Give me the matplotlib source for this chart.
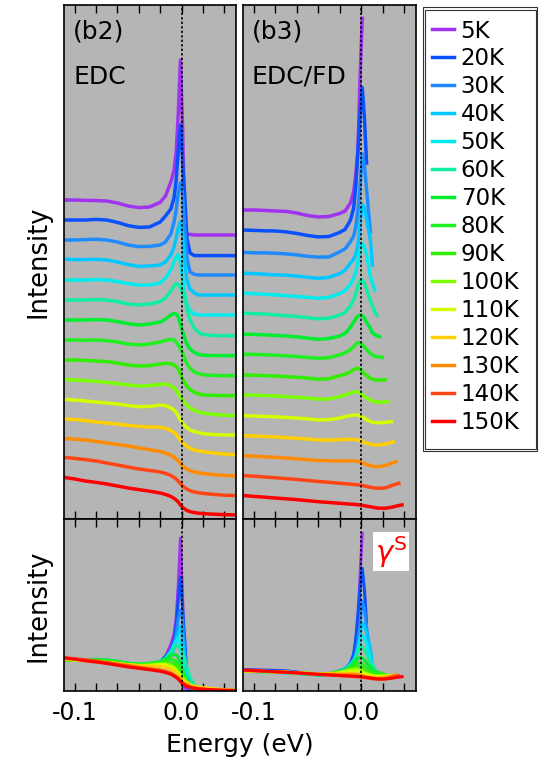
import numpy as np
import matplotlib
matplotlib.use('Agg')
import matplotlib.pyplot as plt
from matplotlib.patches import Rectangle

plt.rcParams['axes.unicode_minus'] = False

temperatures = ['5K', '20K', '30K', '40K', '50K', '60K', '70K', '80K',
                '90K', '100K', '110K', '120K', '130K', '140K', '150K']
colors = ['#a033f0', '#0a50ff', '#1e8cff', '#00c8ff', '#00ebeb', '#10eea0',
          '#00ee30', '#20f020', '#30ee00', '#7cff00', '#d2ff00', '#ffd000',
          '#ff8c00', '#ff4514', '#ff0000']

# EDC intensity (arb. units, 0 = level at -0.11 eV)
energy_edc = [-0.11, -0.10, -0.09, -0.08, -0.07, -0.06, -0.05, -0.04, -0.03, -0.02,
              -0.015, -0.01, -0.007, -0.005, -0.003, -0.001, 0.001, 0.003, 0.005,
              0.008, 0.012, 0.016, 0.02, 0.03, 0.04, 0.052]
edc_5K = [0.0, 0.0, -0.02, -0.03, -0.05, -0.15, -0.3, -0.38, -0.35, -0.12, 0.2, 0.9, 1.5,
          2.4, 4.35, 7.0, 3.6, -1.6, -1.7, -1.72, -1.75, -1.75, -1.75, -1.75, -1.75, -1.75]
edc_20K = [0.0, 0.0, 0.0, 0.03, 0.0, -0.12, -0.28, -0.37, -0.35, -0.1, 0.2, 0.55, 1.1,
           2.0, 3.5, 4.75, 3.0, 1.2, -0.9, -1.65, -1.78, -1.78, -1.78, -1.78, -1.78, -1.78]
edc_30K = [0.0, 0.0, 0.02, 0.04, 0.0, -0.1, -0.25, -0.33, -0.32, -0.25, -0.1, 0.3, 0.9,
           1.5, 2.4, 2.87, 2.3, 0.6, -0.9, -1.6, -1.72, -1.75, -1.75, -1.75, -1.75, -1.75]
edc_40K = [0.05, 0.02, 0.02, 0.03, 0.0, -0.1, -0.23, -0.32, -0.3, -0.25, -0.1, 0.25, 0.65,
           1.1, 1.6, 1.92, 1.25, -0.1, -1.0, -1.45, -1.65, -1.75, -1.75, -1.75, -1.75, -1.75]
edc_50K = [0.0, 0.0, 0.0, 0.02, 0.0, -0.08, -0.18, -0.25, -0.25, -0.15, 0.1, 0.5, 0.9,
           1.15, 1.28, 0.9, 0.1, -0.75, -1.2, -1.55, -1.7, -1.75, -1.75, -1.75, -1.75, -1.75]
edc_60K = [0.0, 0.0, 0.0, 0.02, 0.0, -0.08, -0.2, -0.25, -0.2, -0.08, 0.1, 0.45, 0.7,
           0.83, 0.8, 0.6, 0.4, 0.1, -0.4, -1.0, -1.42, -1.62, -1.72, -1.78, -1.78, -1.78]
edc_70K = [0.0, 0.0, 0.0, 0.02, 0.0, -0.08, -0.18, -0.25, -0.2, -0.1, 0.05, 0.25, 0.33,
           0.3, 0.15, -0.2, -0.55, -0.9, -1.2, -1.45, -1.62, -1.72, -1.76, -1.78, -1.78, -1.78]
edc_80K = [0.0, 0.0, -0.01, 0.0, -0.03, -0.1, -0.2, -0.25, -0.2, -0.1, -0.02, 0.03, 0.0,
           -0.1, -0.25, -0.42, -0.65, -0.95, -1.17, -1.42, -1.6, -1.68, -1.74, -1.77, -1.78, -1.78]
edc_90K = [0.0, 0.0, -0.02, -0.05, -0.08, -0.15, -0.25, -0.3, -0.28, -0.2, -0.17, -0.18, -0.25,
           -0.33, -0.45, -0.7, -0.95, -1.15, -1.3, -1.48, -1.62, -1.7, -1.74, -1.77, -1.78, -1.78]
edc_100K = [0.03, 0.0, -0.03, -0.07, -0.12, -0.18, -0.25, -0.3, -0.28, -0.22, -0.2, -0.28, -0.4,
            -0.52, -0.68, -0.85, -1.0, -1.12, -1.25, -1.4, -1.52, -1.6, -1.65, -1.72, -1.76, -1.78]
edc_110K = [0.03, 0.0, -0.05, -0.1, -0.15, -0.2, -0.28, -0.33, -0.32, -0.25, -0.28, -0.4, -0.5,
            -0.62, -0.8, -1.0, -1.15, -1.28, -1.38, -1.5, -1.58, -1.63, -1.68, -1.73, -1.75, -1.75]
edc_120K = [0.05, 0.02, -0.03, -0.1, -0.15, -0.2, -0.27, -0.32, -0.35, -0.36, -0.42, -0.52, -0.62,
            -0.72, -0.85, -1.0, -1.13, -1.23, -1.32, -1.42, -1.5, -1.55, -1.58, -1.65, -1.7, -1.74]
edc_130K = [0.08, 0.04, 0.0, -0.07, -0.15, -0.22, -0.3, -0.4, -0.48, -0.58, -0.65, -0.76, -0.86,
            -0.95, -1.05, -1.18, -1.3, -1.38, -1.45, -1.53, -1.6, -1.64, -1.67, -1.73, -1.77, -1.8]
edc_140K = [0.13, 0.08, 0.02, -0.05, -0.15, -0.25, -0.35, -0.45, -0.52, -0.6, -0.67, -0.77, -0.87,
            -0.95, -1.06, -1.18, -1.3, -1.38, -1.45, -1.53, -1.6, -1.64, -1.67, -1.72, -1.76, -1.78]
edc_150K = [0.13, 0.05, -0.05, -0.12, -0.2, -0.3, -0.4, -0.48, -0.56, -0.65, -0.72, -0.82, -0.92,
            -1.0, -1.1, -1.25, -1.37, -1.45, -1.52, -1.58, -1.63, -1.66, -1.68, -1.71, -1.73, -1.75]

# EDC divided by Fermi-Dirac; each curve stops where the division blows up
energy_fd = [-0.11, -0.10, -0.09, -0.08, -0.07, -0.06, -0.05, -0.04, -0.03, -0.02,
             -0.015, -0.01, -0.007, -0.005, -0.003, -0.001, 0.001, 0.003, 0.005,
             0.0085, 0.0105, 0.0125, 0.0145, 0.017, 0.0195, 0.0225, 0.025, 0.028,
             0.030, 0.0325, 0.035, 0.038]
fd_5K = [0.0, 0.0, -0.02, -0.05, -0.07, -0.15, -0.27, -0.34, -0.32, -0.17, -0.05, 0.34,
         0.9, 1.75, 3.0, 6.6, 9.4]
fd_20K = [0.02, 0.0, -0.02, -0.03, -0.07, -0.15, -0.25, -0.32, -0.3, -0.1, 0.05, 0.5,
          1.1, 2.2, 3.9, 5.8, 7.0, 5.5, 3.3]
fd_30K = [-0.08, -0.1, -0.1, -0.12, -0.15, -0.2, -0.27, -0.31, -0.3, -0.05, 0.1, 0.45,
          0.72, 1.2, 2.0, 3.2, 4.75, 4.2, 3.0, 0.94]
fd_40K = [-0.1, -0.12, -0.15, -0.18, -0.2, -0.24, -0.3, -0.35, -0.3, -0.12, 0.05, 0.4,
          0.6, 0.85, 1.3, 2.4, 3.25, 3.1, 2.55, 1.55, 0.3]
fd_50K = [-0.08, -0.1, -0.13, -0.16, -0.2, -0.24, -0.28, -0.33, -0.28, -0.1, 0.05, 0.35,
          0.65, 0.95, 1.5, 2.1, 2.37, 2.2, 1.8, 0.75, 0.4, 0.08]
fd_60K = [-0.06, -0.08, -0.1, -0.14, -0.18, -0.22, -0.28, -0.34, -0.3, -0.15, -0.02, 0.3,
          0.6, 0.9, 1.3, 1.55, 1.57, 1.4, 1.1, 0.55, 0.28, 0.05, -0.15]
fd_70K = [-0.09, -0.1, -0.12, -0.15, -0.18, -0.22, -0.28, -0.34, -0.3, -0.18, -0.05, 0.25,
          0.5, 0.68, 0.8, 0.85, 0.82, 0.7, 0.5, 0.2, -0.03, -0.1, -0.16, -0.21]
fd_80K = [-0.07, -0.08, -0.1, -0.12, -0.15, -0.18, -0.23, -0.27, -0.24, -0.1, 0.0, 0.15,
          0.3, 0.42, 0.5, 0.48, 0.4, 0.28, 0.15, -0.02, -0.11, -0.16, -0.19, -0.21, -0.22]
fd_90K = [-0.09, -0.1, -0.12, -0.14, -0.17, -0.2, -0.24, -0.3, -0.27, -0.12, -0.05, 0.07,
          0.17, 0.22, 0.24, 0.2, 0.1, -0.02, -0.12, -0.25, -0.3, -0.33, -0.34, -0.34, -0.33,
          -0.32]
fd_100K = [-0.07, -0.08, -0.1, -0.12, -0.15, -0.18, -0.22, -0.27, -0.27, -0.15, -0.07, 0.03,
           0.07, 0.09, 0.08, 0.03, -0.05, -0.15, -0.22, -0.32, -0.37, -0.4, -0.41, -0.42,
           -0.42, -0.41, -0.4]
fd_110K = [-0.08, -0.1, -0.12, -0.14, -0.17, -0.2, -0.24, -0.29, -0.28, -0.2, -0.13, -0.08,
           -0.05, -0.05, -0.06, -0.1, -0.15, -0.22, -0.28, -0.36, -0.4, -0.42, -0.43, -0.43,
           -0.42, -0.41, -0.4, -0.38]
fd_120K = [-0.06, -0.08, -0.1, -0.13, -0.16, -0.19, -0.23, -0.27, -0.28, -0.26, -0.25, -0.24,
           -0.25, -0.26, -0.28, -0.31, -0.35, -0.4, -0.44, -0.48, -0.5, -0.52, -0.52, -0.52,
           -0.5, -0.47, -0.45, -0.4, -0.36]
fd_130K = [-0.04, -0.07, -0.1, -0.13, -0.16, -0.2, -0.24, -0.28, -0.3, -0.3, -0.3, -0.3,
           -0.3, -0.31, -0.33, -0.36, -0.4, -0.44, -0.48, -0.53, -0.56, -0.58, -0.58, -0.58,
           -0.56, -0.52, -0.48, -0.42, -0.38, -0.34]
fd_140K = [-0.02, -0.05, -0.09, -0.13, -0.17, -0.21, -0.26, -0.31, -0.35, -0.4, -0.42, -0.44,
           -0.46, -0.47, -0.48, -0.49, -0.51, -0.53, -0.55, -0.59, -0.61, -0.63, -0.64, -0.64,
           -0.64, -0.62, -0.58, -0.52, -0.48, -0.44, -0.4]
fd_150K = [0.0, -0.04, -0.08, -0.12, -0.16, -0.2, -0.25, -0.3, -0.34, -0.38, -0.4, -0.42,
           -0.43, -0.44, -0.45, -0.46, -0.48, -0.5, -0.52, -0.55, -0.57, -0.59, -0.61, -0.62,
           -0.62, -0.62, -0.6, -0.58, -0.55, -0.52, -0.49, -0.46]

edc_curves = [edc_5K, edc_20K, edc_30K, edc_40K, edc_50K, edc_60K, edc_70K, edc_80K,
              edc_90K, edc_100K, edc_110K, edc_120K, edc_130K, edc_140K, edc_150K]
fd_curves = [fd_5K, fd_20K, fd_30K, fd_40K, fd_50K, fd_60K, fd_70K, fd_80K,
             fd_90K, fd_100K, fd_110K, fd_120K, fd_130K, fd_140K, fd_150K]

W, H = 544, 763
fig = plt.figure(figsize=(W / 100, H / 100), dpi=100)


def px_axes(x0, y0, x1, y1):
    # axes from pixel box (top-left origin)
    return fig.add_axes([x0 / W, 1 - y1 / H, (x1 - x0) / W, (y1 - y0) / H])


ax_tl = px_axes(64, 5, 236, 519)
ax_bl = px_axes(64, 519, 236, 691)
ax_tr = px_axes(243, 5, 416, 519)
ax_br = px_axes(243, 519, 416, 691)

n = len(temperatures)
for k in range(n):
    off = n - 1 - k
    ax_tl.plot(energy_edc, np.array(edc_curves[k]) + off, color=colors[k], lw=2.5,
               label=temperatures[k])
    ax_bl.plot(energy_edc, edc_curves[k], color=colors[k], lw=2.2)
    e = energy_fd[:len(fd_curves[k])]
    ax_tr.plot(e, np.array(fd_curves[k]) + off, color=colors[k], lw=2.5)
    ax_br.plot(e, fd_curves[k], color=colors[k], lw=2.2)

ax_tl.set_ylim(-1.95, 23.75)
ax_bl.set_ylim(-1.78, 8.1)
ax_tr.set_ylim(-1.15, 24.05)
ax_br.set_ylim(-1.45, 10.4)

for ax in [ax_tl, ax_bl, ax_tr, ax_br]:
    ax.set_facecolor('#b5b5b5')
    ax.set_xlim(-0.110, 0.051)
    ax.axvline(0, color='k', lw=1.2, ls=(0, (1.4, 1.3)), zorder=5)
    ax.set_yticks([])
    ax.set_xticks([-0.1, 0.0])
    ax.set_xticks([-0.08, -0.06, -0.04, -0.02, 0.02, 0.04], minor=True)
    ax.tick_params(axis='x', which='both', direction='in', top=True, bottom=True,
                   length=5.5, width=1, pad=7, labelsize=17)
    for s in ax.spines.values():
        s.set_linewidth(1.2)

for ax in [ax_tl, ax_tr]:
    ax.tick_params(labelbottom=False)
for ax in [ax_bl, ax_br]:
    ax.set_xticklabels(['-0.1', '0.0'])

# panel labels
fig.text(73 / W, 1 - 38.5 / H, '(b2)', fontsize=18, va='baseline')
fig.text(73 / W, 1 - 83.5 / H, 'EDC', fontsize=18, va='baseline')
fig.text(251.5 / W, 1 - 38.5 / H, '(b3)', fontsize=18, va='baseline')
fig.text(251.5 / W, 1 - 83.5 / H, 'EDC/FD', fontsize=18, va='baseline')

fig.text(38 / W, 1 - 262 / H, 'Intensity', rotation=90, ha='center', va='center', fontsize=18.5)
fig.text(38 / W, 1 - 606 / H, 'Intensity', rotation=90, ha='center', va='center', fontsize=18.5)
fig.text(240 / W, 1 - 752 / H, 'Energy (eV)', ha='center', va='baseline', fontsize=18)

ax_br.text(0.95, 0.915, r'$\gamma^{\mathsf{S}}$', transform=ax_br.transAxes, ha='right',
           va='top', color='red', fontsize=21,
           bbox=dict(fc='white', ec='none', pad=1.0))

# temperature legend with a double frame
handles, labels = ax_tl.get_legend_handles_labels()
fig.legend(handles, labels, loc='upper left', bbox_to_anchor=(432 / W, 1 - 19.5 / H),
           frameon=False, fontsize=16.5, handlelength=0.95, handletextpad=0.3,
           labelspacing=0.218, borderpad=0, borderaxespad=0)
for (x0, y0, x1, y1) in [(423, 7, 537.2, 451.2), (425.2, 9.5, 535.5, 448.8)]:
    fig.patches.append(Rectangle((x0 / W, 1 - y1 / H), (x1 - x0) / W, (y1 - y0) / H,
                                 transform=fig.transFigure, fill=False,
                                 ec='#333333', lw=0.8))

fig.savefig('out.png', dpi=100)
